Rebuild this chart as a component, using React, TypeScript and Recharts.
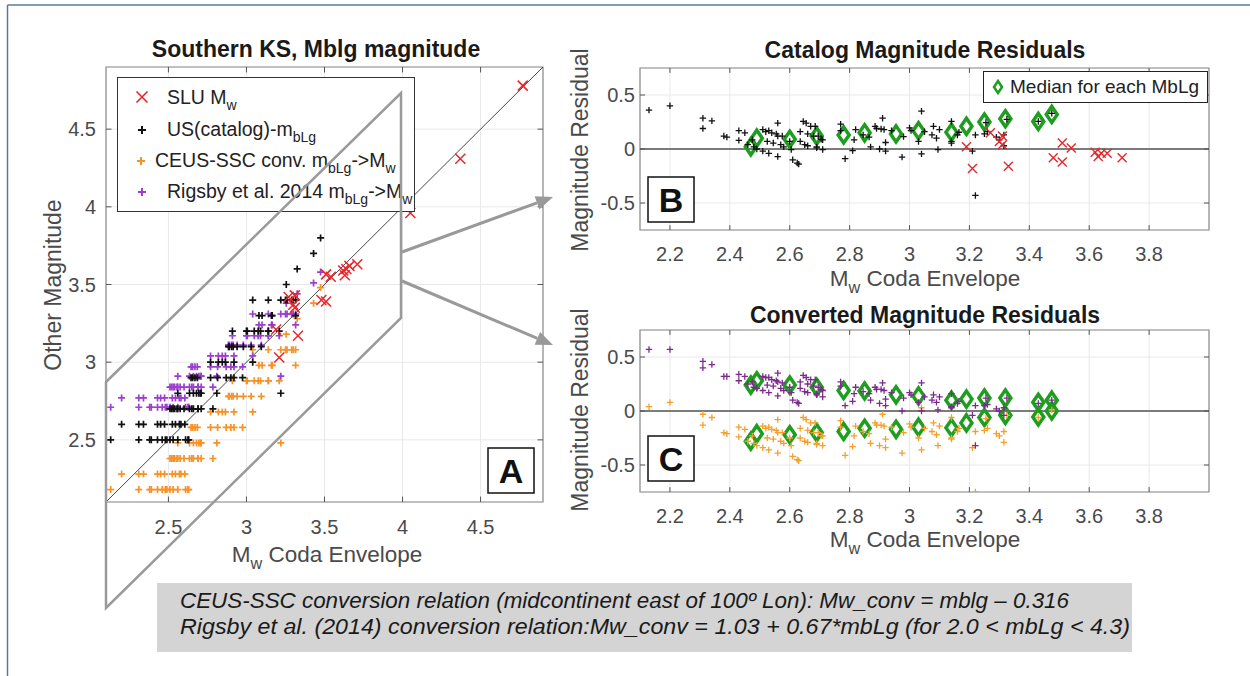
import React from "react";
import {
  ScatterChart,
  Scatter,
  XAxis,
  YAxis,
  CartesianGrid,
  ReferenceLine,
  ReferenceArea,
  Legend,
} from "recharts";

const FONT = '"Liberation Sans", Arial, Helvetica, sans-serif';

// ---------- Panel A: other magnitude vs Mw coda envelope ----------
// catalog mbLg is reported in 0.1 steps, so points sit on rows
const mblgLevels = [2.5, 2.6, 2.7, 2.8, 2.9, 3.0, 3.1, 3.2, 3.3, 3.4, 3.5, 3.6, 3.7, 3.8];
const ceusLevels = [2.18, 2.28, 2.38, 2.48, 2.58, 2.68, 2.78, 2.88, 2.98, 3.08, 3.18, 3.28, 3.38, 3.48];
const rigsbyLevels = [2.71, 2.77, 2.84, 2.91, 2.97, 3.04, 3.11, 3.17, 3.24, 3.31, 3.38, 3.44, 3.51, 3.58];
const codaMwByLevel: number[][] = [
  [2.13, 2.31, 2.38, 2.39, 2.43, 2.46, 2.48, 2.49, 2.51, 2.53, 2.56, 2.61, 2.625, 2.63],
  [2.2, 2.31, 2.34, 2.43, 2.45, 2.475, 2.525, 2.545, 2.57, 2.58, 2.605],
  [2.51, 2.52, 2.53, 2.54, 2.555, 2.56, 2.575, 2.6, 2.635, 2.65, 2.66, 2.69, 2.69, 2.71, 2.785],
  [2.56, 2.635, 2.66, 2.68, 2.695, 2.705, 2.71, 2.81, 3.22],
  [2.645, 2.655, 2.67, 2.685, 2.77, 2.815, 2.87, 2.9, 2.92, 2.975],
  [2.77, 2.82, 2.845, 2.865, 2.92, 3.04],
  [2.885, 2.89, 2.905, 2.915, 2.94, 2.98, 3.03, 3.095],
  [2.91, 3.0, 3.005, 3.05, 3.075, 3.09, 3.14, 3.14, 3.21],
  [3.08, 3.1, 3.16, 3.165, 3.315],
  [3.04, 3.14, 3.22, 3.25, 3.26, 3.29, 3.3, 3.315],
  [3.255],
  [3.325],
  [3.43],
  [3.475],
];
const sluMw: [number, number][] = [
  [3.19, 3.21], [3.21, 3.03], [3.27, 3.42], [3.31, 3.43], [3.3, 3.37], [3.31, 3.35], [3.33, 3.17],
  [3.48, 3.4], [3.51, 3.565], [3.51, 3.39], [3.54, 3.55], [3.62, 3.59], [3.63, 3.56], [3.64, 3.6],
  [3.66, 3.62], [3.71, 3.63], [4.05, 3.96], [4.37, 4.31], [4.77, 4.78],
];

// ---------- Panel B: catalog magnitude residuals ----------
const catalogResidual: [number, number][] = [
  [2.13, 0.36], [2.2, 0.4], [2.31, 0.285], [2.31, 0.19], [2.34, 0.26], [2.38, 0.12], [2.39, 0.11],
  [2.43, 0.17], [2.43, 0.08], [2.45, 0.15], [2.46, 0.04], [2.475, 0.085], [2.48, 0.02], [2.49, 0],
  [2.51, 0.18], [2.52, 0.16], [2.525, 0.07], [2.51, -0.02], [2.53, 0.17], [2.54, 0.15], [2.545, 0.055],
  [2.53, -0.04], [2.555, 0.14], [2.56, 0.12], [2.56, 0.24], [2.57, 0.04], [2.56, -0.07], [2.575, 0.12],
  [2.58, 0.02], [2.6, 0.07], [2.605, -0.005], [2.61, -0.1], [2.625, -0.13], [2.63, -0.14], [2.635, 0.16],
  [2.635, 0.07], [2.645, 0.255], [2.65, 0.04], [2.655, 0.24], [2.66, 0.14], [2.66, 0.03], [2.67, 0.21],
  [2.68, 0.12], [2.685, 0.21], [2.69, 0.01], [2.69, 0.02], [2.695, 0.12], [2.705, 0.09], [2.71, -0.005],
  [2.71, 0.085], [2.77, 0.23], [2.77, 0.17], [2.785, -0.09], [2.81, -0.015], [2.82, 0.18], [2.815, 0.085],
  [2.845, 0.13], [2.865, 0.11], [2.87, 0.02], [2.885, 0.21], [2.89, 0.19], [2.9, 0], [2.91, 0.285],
  [2.905, 0.185], [2.915, 0.18], [2.92, 0.06], [2.92, -0.02], [2.94, 0.17], [2.975, -0.075], [2.98, 0.115],
  [3.0, 0.195], [3.005, 0.17], [3.03, 0.07], [3.04, 0.35], [3.04, -0.045], [3.05, 0.16], [3.075, 0.13],
  [3.08, 0.21], [3.09, 0.1], [3.1, 0.18], [3.095, -0.005], [3.14, 0.255], [3.14, 0.07], [3.14, 0.055],
  [3.16, 0.13], [3.165, 0.155], [3.21, -0.02], [3.22, -0.43], [3.22, 0.13], [3.25, 0.14], [3.26, 0.16],
  [3.29, 0.11], [3.3, 0.085], [3.315, 0.03], [3.315, 0.13], [3.255, 0.245], [3.325, 0.275], [3.43, 0.255],
  [3.475, 0.33],
];
const sluResidual: [number, number][] = [
  [3.19, 0.02], [3.21, -0.18], [3.27, 0.15], [3.31, 0.12], [3.3, 0.07], [3.31, 0.04], [3.33, -0.16],
  [3.48, -0.08], [3.51, 0.055], [3.51, -0.12], [3.54, 0.01], [3.62, -0.03], [3.63, -0.07], [3.64, -0.04],
  [3.66, -0.04], [3.71, -0.08],
];
const catalogMedian: [number, number][] = [
  [2.47, 0.02], [2.49, 0.1], [2.6, 0.09], [2.69, 0.12], [2.78, 0.13], [2.85, 0.15], [2.955, 0.14],
  [3.03, 0.17], [3.14, 0.155], [3.19, 0.21], [3.25, 0.25], [3.32, 0.28], [3.43, 0.255], [3.475, 0.32],
];

// ---------- Panel C: converted magnitude residuals ----------
const ceusResidual: [number, number][] = [
  [2.13, 0.04], [2.2, 0.08], [2.31, -0.03], [2.31, -0.13], [2.34, -0.06], [2.38, -0.2], [2.39, -0.21],
  [2.43, -0.15], [2.43, -0.24], [2.45, -0.17], [2.46, -0.28], [2.475, -0.23], [2.48, -0.3], [2.49, -0.32],
  [2.51, -0.14], [2.52, -0.16], [2.525, -0.25], [2.51, -0.34], [2.53, -0.15], [2.54, -0.17], [2.545, -0.26],
  [2.53, -0.36], [2.555, -0.18], [2.56, -0.2], [2.56, -0.08], [2.57, -0.28], [2.56, -0.39], [2.575, -0.2],
  [2.58, -0.3], [2.6, -0.25], [2.605, -0.32], [2.61, -0.42], [2.625, -0.45], [2.63, -0.46], [2.635, -0.16],
  [2.635, -0.25], [2.645, -0.06], [2.65, -0.28], [2.655, -0.08], [2.66, -0.18], [2.66, -0.29], [2.67, -0.11],
  [2.68, -0.2], [2.685, -0.11], [2.69, -0.31], [2.69, -0.3], [2.695, -0.2], [2.705, -0.23], [2.71, -0.32],
  [2.71, -0.23], [2.77, -0.09], [2.77, -0.15], [2.785, -0.41], [2.81, -0.33], [2.82, -0.14], [2.815, -0.23],
  [2.845, -0.19], [2.865, -0.21], [2.87, -0.3], [2.885, -0.11], [2.89, -0.13], [2.9, -0.32], [2.91, -0.03],
  [2.905, -0.13], [2.915, -0.14], [2.92, -0.26], [2.92, -0.34], [2.94, -0.15], [2.975, -0.39], [2.98, -0.2],
  [3.0, -0.12], [3.005, -0.15], [3.03, -0.25], [3.04, 0.03], [3.04, -0.36], [3.05, -0.16], [3.075, -0.19],
  [3.08, -0.11], [3.09, -0.22], [3.1, -0.14], [3.095, -0.32], [3.14, -0.06], [3.14, -0.25], [3.14, -0.26],
  [3.16, -0.19], [3.165, -0.16], [3.21, -0.34], [3.22, -0.75], [3.22, -0.19], [3.25, -0.18], [3.26, -0.16],
  [3.29, -0.21], [3.3, -0.23], [3.315, -0.29], [3.315, -0.19], [3.255, -0.07], [3.325, -0.04], [3.43, -0.06],
  [3.475, 0.01],
];
const rigsbyResidual: [number, number][] = [
  [2.13, 0.57], [2.2, 0.57], [2.31, 0.46], [2.31, 0.4], [2.34, 0.43], [2.38, 0.32], [2.39, 0.32],
  [2.43, 0.34], [2.43, 0.28], [2.45, 0.32], [2.46, 0.25], [2.475, 0.27], [2.48, 0.22], [2.49, 0.21],
  [2.51, 0.32], [2.52, 0.31], [2.525, 0.24], [2.51, 0.19], [2.53, 0.31], [2.54, 0.29], [2.545, 0.23],
  [2.53, 0.17], [2.555, 0.28], [2.56, 0.27], [2.56, 0.35], [2.57, 0.21], [2.56, 0.14], [2.575, 0.26],
  [2.58, 0.19], [2.6, 0.22], [2.605, 0.17], [2.61, 0.1], [2.625, 0.08], [2.63, 0.07], [2.635, 0.27],
  [2.635, 0.21], [2.645, 0.33], [2.65, 0.18], [2.655, 0.31], [2.66, 0.25], [2.66, 0.17], [2.67, 0.29],
  [2.68, 0.23], [2.685, 0.29], [2.69, 0.15], [2.69, 0.16], [2.695, 0.22], [2.705, 0.2], [2.71, 0.13],
  [2.71, 0.19], [2.77, 0.27], [2.77, 0.23], [2.785, 0.05], [2.81, 0.09], [2.82, 0.22], [2.815, 0.16],
  [2.845, 0.18], [2.865, 0.16], [2.87, 0.1], [2.885, 0.22], [2.89, 0.2], [2.9, 0.07], [2.91, 0.26],
  [2.905, 0.2], [2.915, 0.19], [2.92, 0.11], [2.92, 0.05], [2.94, 0.17], [2.975, 0], [2.98, 0.12],
  [3.0, 0.17], [3.005, 0.15], [3.03, 0.08], [3.04, 0.26], [3.04, 0], [3.05, 0.13], [3.075, 0.1],
  [3.08, 0.15], [3.09, 0.08], [3.1, 0.13], [3.095, 0.01], [3.14, 0.16], [3.14, 0.04], [3.14, 0.03],
  [3.16, 0.07], [3.165, 0.09], [3.21, -0.04], [3.22, -0.32], [3.22, 0.05], [3.25, 0.05], [3.26, 0.06],
  [3.29, 0.02], [3.3, 0], [3.315, -0.04], [3.315, 0.03], [3.255, 0.12], [3.325, 0.12], [3.43, 0.07],
  [3.475, 0.1],
];
const rigsbyMedian: [number, number][] = [
  [2.47, 0.24], [2.49, 0.28], [2.6, 0.24], [2.69, 0.22], [2.78, 0.19], [2.85, 0.185], [2.955, 0.15],
  [3.03, 0.14], [3.14, 0.1], [3.19, 0.11], [3.25, 0.12], [3.32, 0.12], [3.43, 0.08], [3.475, 0.1],
];
const ceusMedian: [number, number][] = [
  [2.47, -0.28], [2.49, -0.21], [2.6, -0.22], [2.69, -0.2], [2.78, -0.19], [2.85, -0.16], [2.955, -0.17],
  [3.03, -0.15], [3.14, -0.155], [3.19, -0.11], [3.25, -0.06], [3.32, -0.04], [3.43, -0.055], [3.475, 0],
];

const ticksA = [2.5, 3, 3.5, 4, 4.5];
const ticksResX = [2.2, 2.4, 2.6, 2.8, 3, 3.2, 3.4, 3.6, 3.8];
const ticksResY = [-0.5, 0, 0.5];

const RED = "#e8262b";
const BLACK = "#111";
const ORANGE_A = "#f5932a";
const PURPLE_A = "#9b3fd0";
const ORANGE_C = "#f5a02a";
const PURPLE_C = "#7d2a8c";
const GREEN = "#1e9e1e";
const AXIS = "#8c8c8c";
const TICK = "#555";
const GRID = "#e8e8e8";
const TEXT = "#4a4a4a";

const pts = (arr: [number, number][]) => arr.map(([x, y]) => ({ x, y }));
const rows = (levels: number[]) =>
  levels.flatMap((lvl, i) => codaMwByLevel[i].map((x) => ({ x, y: lvl })));

// marker shapes
const plus = (color: string, r = 3.5, w = 1.5) => (p: any) =>
  p.cx == null ? <g /> : (
    <path
      d={`M${p.cx - r},${p.cy}H${p.cx + r}M${p.cx},${p.cy - r}V${p.cy + r}`}
      stroke={color}
      strokeWidth={w}
      fill="none"
    />
  );
const cross = (color: string, r = 4.5, w = 1.5) => (p: any) =>
  p.cx == null ? <g /> : (
    <path
      d={`M${p.cx - r},${p.cy - r}L${p.cx + r},${p.cy + r}M${p.cx - r},${p.cy + r}L${p.cx + r},${p.cy - r}`}
      stroke={color}
      strokeWidth={w}
      fill="none"
    />
  );
const diamond = (hw = 5.5, hh = 8, w = 3.5) => (p: any) =>
  p.cx == null ? <g /> : (
    <path
      d={`M${p.cx},${p.cy - hh}L${p.cx + hw},${p.cy}L${p.cx},${p.cy + hh}L${p.cx - hw},${p.cy}Z`}
      stroke={GREEN}
      strokeWidth={w}
      strokeLinejoin="miter"
      fill="none"
    />
  );

const tickStyle = { fill: TEXT, fontSize: 20, fontFamily: FONT };

// small inward tick marks on all four sides of a MATLAB-style box
const boxTicks = (
  xt: number[],
  yt: number[],
  [x0, x1]: number[],
  [y0, y1]: number[],
  dx: number,
  dy: number
) => [
  ...xt.map((v) => (
    <ReferenceLine key={`xb${v}`} segment={[{ x: v, y: y0 }, { x: v, y: y0 + dy }]} stroke={TICK} />
  )),
  ...xt.map((v) => (
    <ReferenceLine key={`xt${v}`} segment={[{ x: v, y: y1 }, { x: v, y: y1 - dy }]} stroke={TICK} />
  )),
  ...yt.map((v) => (
    <ReferenceLine key={`yl${v}`} segment={[{ x: x0, y: v }, { x: x0 + dx, y: v }]} stroke={TICK} />
  )),
  ...yt.map((v) => (
    <ReferenceLine key={`yr${v}`} segment={[{ x: x1, y: v }, { x: x1 - dx, y: v }]} stroke={TICK} />
  )),
];

const LegendA = () => (
  <svg width={300} height={140} style={{ overflow: "visible" }}>
    <rect x={0.5} y={0.5} width={297} height={134} fill="#fff" stroke="#333" strokeWidth={1} />
    <g fontFamily={FONT} fontSize={19.5} fill="#222">
      {cross(RED, 5.5, 1.6)({ cx: 25, cy: 20 })}
      <text x={50} y={27}>
        SLU M<tspan dy={6} fontSize={14}>w</tspan>
      </text>
      {plus(BLACK, 4, 2)({ cx: 25, cy: 53 })}
      <text x={50} y={59}>
        US(catalog)-m<tspan dy={6} fontSize={14}>bLg</tspan>
      </text>
      {plus(ORANGE_A, 4, 2)({ cx: 24, cy: 84 })}
      <text x={38} y={90}>
        CEUS-SSC conv. m<tspan dy={6} fontSize={14}>bLg</tspan>
        <tspan dy={-6}>-&gt;M</tspan>
        <tspan dy={6} fontSize={14}>w</tspan>
      </text>
      {plus(PURPLE_A, 4, 2)({ cx: 25, cy: 115 })}
      <text x={50} y={121}>
        Rigsby et al. 2014 m<tspan dy={6} fontSize={14}>bLg</tspan>
        <tspan dy={-6}>-&gt;M</tspan>
        <tspan dy={6} fontSize={14}>w</tspan>
      </text>
    </g>
  </svg>
);

const LegendB = () => (
  <svg width={226} height={33}>
    <rect x={0.5} y={0.5} width={224} height={31} fill="#fff" stroke="#222" strokeWidth={1} />
    {diamond(4, 6, 2.5)({ cx: 15, cy: 16 })}
    <text x={27} y={22} fontFamily={FONT} fontSize={19} fill="#222">
      Median for each MbLg
    </text>
  </svg>
);

const ChartA = () => (
  <div style={{ position: "absolute", left: 0, top: 0 }}>
    <ScatterChart width={560} height={600} margin={{ top: 67, right: 17, bottom: 68, left: 46 }}>
      <CartesianGrid stroke={GRID} />
      <XAxis
        type="number"
        dataKey="x"
        domain={[2.1, 4.9]}
        ticks={ticksA}
        interval={0}
        allowDataOverflow
        axisLine={false}
        tickLine={false}
        tickSize={0}
        tickMargin={18}
        height={30}
        tick={tickStyle}
      />
      <YAxis
        type="number"
        dataKey="y"
        domain={[2.1, 4.9]}
        ticks={ticksA}
        interval={0}
        allowDataOverflow
        axisLine={false}
        tickLine={false}
        tickSize={0}
        tickMargin={10}
        width={60}
        tick={tickStyle}
      />
      <ReferenceArea x1={2.1} x2={4.9} y1={2.1} y2={4.9} fill="none" stroke={AXIS} strokeWidth={1.2} />
      {boxTicks(ticksA, ticksA, [2.1, 4.9], [2.1, 4.9], 0.035, 0.035)}
      <ReferenceLine segment={[{ x: 2.1, y: 2.1 }, { x: 4.9, y: 4.9 }]} stroke="#333" strokeWidth={0.9} />
      <Scatter name="CEUS-SSC conv." data={rows(ceusLevels)} shape={plus(ORANGE_A, 3.5, 1.7)} isAnimationActive={false} />
      <Scatter name="Rigsby et al. 2014" data={rows(rigsbyLevels)} shape={plus(PURPLE_A, 3.5, 1.7)} isAnimationActive={false} />
      <Scatter name="US(catalog)" data={rows(mblgLevels)} shape={plus(BLACK, 3.5, 1.7)} isAnimationActive={false} />
      <Scatter name="SLU Mw" data={pts(sluMw)} shape={cross(RED, 5)} isAnimationActive={false} />
      <Legend
        layout="vertical"
        align="center"
        verticalAlign="middle"
        content={LegendA}
        wrapperStyle={{ left: 117, top: 77, width: 300, height: 140 }}
      />
    </ScatterChart>
  </div>
);

const ResidualChart = ({ top, children, legend }: { top: number; children: React.ReactNode; legend?: boolean }) => (
  <div style={{ position: "absolute", left: 560, top }}>
    <ScatterChart width={690} height={300} margin={{ top: 68, right: 41, bottom: 40, left: 30 }}>
      <CartesianGrid stroke={GRID} />
      <XAxis
        type="number"
        dataKey="x"
        domain={[2.1, 4.0]}
        ticks={ticksResX}
        interval={0}
        allowDataOverflow
        axisLine={false}
        tickLine={false}
        tickSize={0}
        tickMargin={17}
        height={30}
        tick={tickStyle}
      />
      <YAxis
        type="number"
        dataKey="y"
        domain={[-0.75, 0.75]}
        ticks={ticksResY}
        interval={0}
        allowDataOverflow
        axisLine={false}
        tickLine={false}
        tickSize={0}
        tickMargin={5}
        width={50}
        tick={tickStyle}
      />
      <ReferenceArea x1={2.1} x2={4.0} y1={-0.75} y2={0.75} fill="none" stroke={AXIS} strokeWidth={1.2} />
      {boxTicks(ticksResX, ticksResY, [2.1, 4.0], [-0.75, 0.75], 0.017, 0.045)}
      <ReferenceLine y={0} stroke="#555" strokeWidth={1.3} />
      {children}
      {legend && (
        <Legend
          layout="vertical"
          align="center"
          verticalAlign="middle"
          content={LegendB}
          wrapperStyle={{ left: 423, top: 71, width: 226, height: 33 }}
        />
      )}
    </ScatterChart>
  </div>
);

const Arrow = ({ x1, y1, x2, y2 }: { x1: number; y1: number; x2: number; y2: number }) => {
  const a = Math.atan2(y2 - y1, x2 - x1);
  const L = 17;
  const W = 7;
  const bx = x2 - L * Math.cos(a);
  const by = y2 - L * Math.sin(a);
  const px = -Math.sin(a) * W;
  const py = Math.cos(a) * W;
  return (
    <g>
      <line x1={x1} y1={y1} x2={bx} y2={by} stroke="#999" strokeWidth={3} />
      <polygon points={`${x2},${y2} ${bx + px},${by + py} ${bx - px},${by - py}`} fill="#999" />
    </g>
  );
};

const Mw = ({ x, y, size }: { x: number; y: number; size: number }) => (
  <text x={x} y={y} textAnchor="middle" fontFamily={FONT} fontSize={size} fill={TEXT}>
    M<tspan dy={7} fontSize={size * 0.72}>w</tspan>
    <tspan dy={-7}> Coda Envelope</tspan>
  </text>
);

const PanelTag = ({ x, y, label }: { x: number; y: number; label: string }) => (
  <g>
    <rect x={x} y={y} width={46} height={45} fill="#fff" stroke="#111" strokeWidth={1.5} />
    <text x={x + 23} y={y + 35} textAnchor="middle" fontFamily={FONT} fontWeight="bold" fontSize={34} fill="#111">
      {label}
    </text>
  </g>
);

const Overlay = () => (
  <svg width={1250} height={676} style={{ position: "absolute", left: 0, top: 0, pointerEvents: "none" }}>
    <line x1={7.5} y1={5} x2={1250} y2={5} stroke="#5b7a99" strokeWidth={1.5} />
    <line x1={7.5} y1={5} x2={7.5} y2={676} stroke="#5b7a99" strokeWidth={1.5} />

    <g fontFamily={FONT} fontWeight="bold" fill="#1a1a1a" fontSize={23} textAnchor="middle">
      <text x={316} y={57}>Southern KS, Mblg magnitude</text>
      <text x={925} y={58}>Catalog Magnitude Residuals</text>
      <text x={925} y={323}>Converted Magnitude Residuals</text>
    </g>

    <Mw x={327} y={562} size={22.5} />
    <Mw x={925} y={286} size={22.5} />
    <Mw x={925} y={547} size={22.5} />

    <g fontFamily={FONT} fontSize={23} fill={TEXT} textAnchor="middle">
      <text transform="translate(61,285) rotate(-90)">Other Magnitude</text>
      <text transform="translate(588,150) rotate(-90)">Magnitude Residual</text>
      <text transform="translate(588,410) rotate(-90)">Magnitude Residual</text>
    </g>

    <polygon points="106,382 401,93 401,318 106,608" fill="none" stroke="#9a9a9a" strokeWidth={2.5} />
    <Arrow x1={402} y1={252} x2={553} y2={197} />
    <Arrow x1={402} y1={281} x2={553} y2={345} />

    <PanelTag x={488} y={448} label="A" />
    <PanelTag x={648} y={177} label="B" />
    <PanelTag x={648} y={436} label="C" />

    <rect x={157} y={583} width={975} height={69} fill="#d4d4d4" />
    <g fontFamily={FONT} fontStyle="italic" fontSize={22} fill="#1a1a1a">
      <text x={180} y={608} textLength={889} lengthAdjust="spacingAndGlyphs">
        CEUS-SSC conversion relation (midcontinent east of 100º Lon): Mw_conv = mblg – 0.316
      </text>
      <text x={180} y={634} textLength={950} lengthAdjust="spacingAndGlyphs">
        Rigsby et al. (2014) conversion relation:Mw_conv = 1.03 + 0.67*mbLg (for 2.0 &lt; mbLg &lt; 4.3)
      </text>
    </g>
  </svg>
);

export default function App() {
  return (
    <div style={{ position: "absolute", left: 0, top: 0, width: 1250, height: 676, background: "#fff", fontFamily: FONT }}>
      <ChartA />
      <ResidualChart top={0} legend>
        <Scatter name="Median" data={pts(catalogMedian)} shape={diamond()} isAnimationActive={false} />
        <Scatter name="US(catalog) residual" data={pts(catalogResidual)} shape={plus(BLACK, 3.2, 1.3)} isAnimationActive={false} />
        <Scatter name="SLU residual" data={pts(sluResidual)} shape={cross(RED, 4.5, 1.4)} isAnimationActive={false} />
      </ResidualChart>
      <ResidualChart top={262}>
        <Scatter name="Median Rigsby" data={pts(rigsbyMedian)} shape={diamond()} isAnimationActive={false} />
        <Scatter name="Median CEUS" data={pts(ceusMedian)} shape={diamond()} isAnimationActive={false} />
        <Scatter name="CEUS residual" data={pts(ceusResidual)} shape={plus(ORANGE_C, 3.2, 1.3)} isAnimationActive={false} />
        <Scatter name="Rigsby residual" data={pts(rigsbyResidual)} shape={plus(PURPLE_C, 3.2, 1.3)} isAnimationActive={false} />
      </ResidualChart>
      <Overlay />
    </div>
  );
}
